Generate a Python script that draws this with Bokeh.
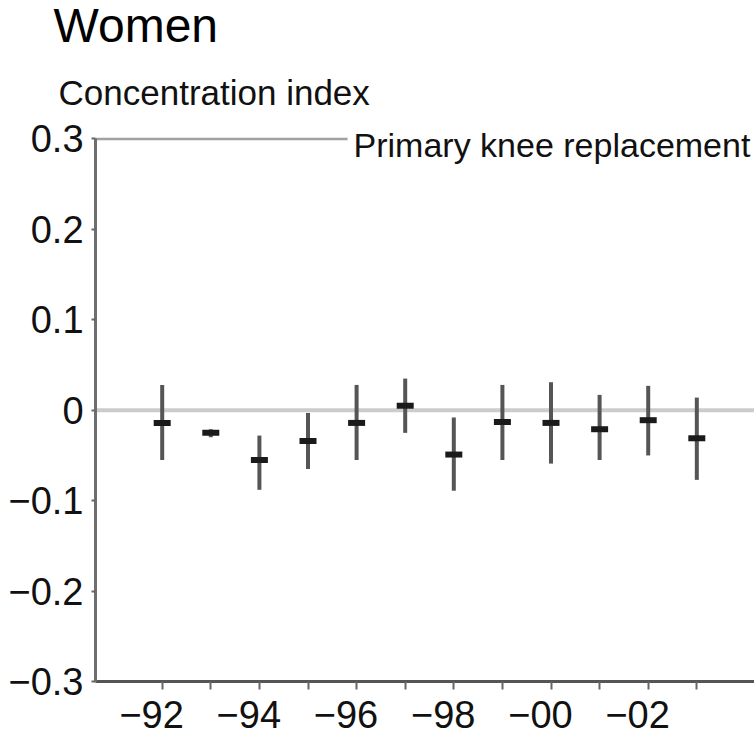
from bokeh.plotting import figure
from bokeh.models import Range1d, FixedTicker, Label, ColumnDataSource
from bokeh.embed import file_html
from bokeh.resources import INLINE

# Concentration index by year (women, primary knee replacement)
years = [1992, 1993, 1994, 1995, 1996, 1997, 1998, 1999, 2000, 2001, 2002, 2003]
ci = [-0.014, -0.025, -0.055, -0.034, -0.014, 0.005, -0.049, -0.013, -0.014, -0.021, -0.011, -0.031]
ci_low = [-0.055, -0.030, -0.088, -0.065, -0.055, -0.025, -0.089, -0.055, -0.059, -0.055, -0.050, -0.077]
ci_high = [0.028, -0.021, -0.028, -0.003, 0.028, 0.035, -0.008, 0.028, 0.031, 0.017, 0.027, 0.014]

y_ticks = [0.3, 0.2, 0.1, 0.0, -0.1, -0.2, -0.3]
y_tick_labels = ["0.3", "0.2", "0.1", "0", "\u22120.1", "\u22120.2", "\u22120.3"]
x_tick_labels = ["\u221292", "", "\u221294", "", "\u221296", "", "\u221298", "", "\u221200", "", "\u221202", ""]

FONT = "Liberation Sans"

# the data area fills the canvas; both axes are pinned at fixed positions
X_AXIS_START, X_END = 1990.628, 2004.187
X_START = 1988.673
Y_MIN, Y_MAX = -0.3, 0.3
Y_BOTTOM, Y_TOP = -0.36194, 0.45318

src = ColumnDataSource(dict(year=years, ci=ci, low=ci_low, high=ci_high))

p = figure(width=754, height=737, output_backend="svg", toolbar_location=None,
           x_range=Range1d(X_START, X_END), y_range=Range1d(Y_BOTTOM, Y_TOP),
           min_border_left=0, min_border_right=0, min_border_top=0, min_border_bottom=0)
p.title.visible = False
p.outline_line_color = None
p.background_fill_color = "white"
p.border_fill_color = "white"
p.xgrid.visible = False
p.ygrid.visible = False

# x axis
p.xaxis.fixed_location = Y_MIN
p.xaxis.bounds = (X_AXIS_START, X_END)
p.xaxis.ticker = FixedTicker(ticks=years)
p.xaxis.major_label_overrides = {yr: (lab + "\u2007" if lab else "") for yr, lab in zip(years, x_tick_labels)}
p.xaxis.minor_tick_line_color = None
p.xaxis.axis_line_color = "#555555"
p.xaxis.axis_line_width = 3
p.xaxis.major_tick_line_color = "#666666"
p.xaxis.major_tick_line_width = 2
p.xaxis.major_tick_out = 8
p.xaxis.major_tick_in = 0
p.xaxis.major_label_standoff = 5
p.xaxis.major_label_text_font = FONT
p.xaxis.major_label_text_font_size = "38px"
p.xaxis.major_label_text_color = "#111111"

# y axis
p.yaxis.fixed_location = X_AXIS_START
p.yaxis.bounds = (Y_MIN, Y_MAX)
p.yaxis.ticker = FixedTicker(ticks=y_ticks)
p.yaxis.major_label_overrides = {t: lab for t, lab in zip(y_ticks, y_tick_labels)}
p.yaxis.minor_tick_line_color = None
p.yaxis.axis_line_color = "#6e6e6e"
p.yaxis.axis_line_width = 3
p.yaxis.major_tick_line_color = "#666666"
p.yaxis.major_tick_line_width = 2
p.yaxis.major_tick_out = 4
p.yaxis.major_tick_in = 0
p.yaxis.major_label_standoff = 8
p.yaxis.major_label_text_font = FONT
p.yaxis.major_label_text_font_size = "38px"
p.yaxis.major_label_text_color = "#111111"

# zero reference line and top frame line
p.segment(x0=[X_AXIS_START], y0=[0.0], x1=[X_END], y1=[0.0], line_color="#cccccc", line_width=4)
p.segment(x0=[X_AXIS_START], y0=[Y_MAX], x1=[X_END], y1=[Y_MAX], line_color="#a0a0a0", line_width=2.5)

# confidence intervals and point estimates
p.segment(x0="year", y0="low", x1="year", y1="high", source=src,
          line_color="#555555", line_width=4)
p.rect(x="year", y="ci", width=17, height=6, width_units="screen", height_units="screen",
       source=src, fill_color="#1a1a1a", line_color=None)

# texts
p.add_layout(Label(x=1995.814, y=0.2936, text="Primary knee replacement",
                   text_font=FONT, text_font_size="34px", text_color="#111111",
                   text_baseline="alphabetic", background_fill_color="white", padding=6))
p.add_layout(Label(x=1989.867, y=0.3514, text="Concentration index",
                   text_font=FONT, text_font_size="35px", text_color="#111111",
                   text_baseline="alphabetic"))
p.add_layout(Label(x=1989.764, y=0.4255, text="Women",
                   text_font=FONT, text_font_size="48px", text_color="black",
                   text_baseline="alphabetic"))

open("out.html", "w").write(file_html(p, INLINE))
